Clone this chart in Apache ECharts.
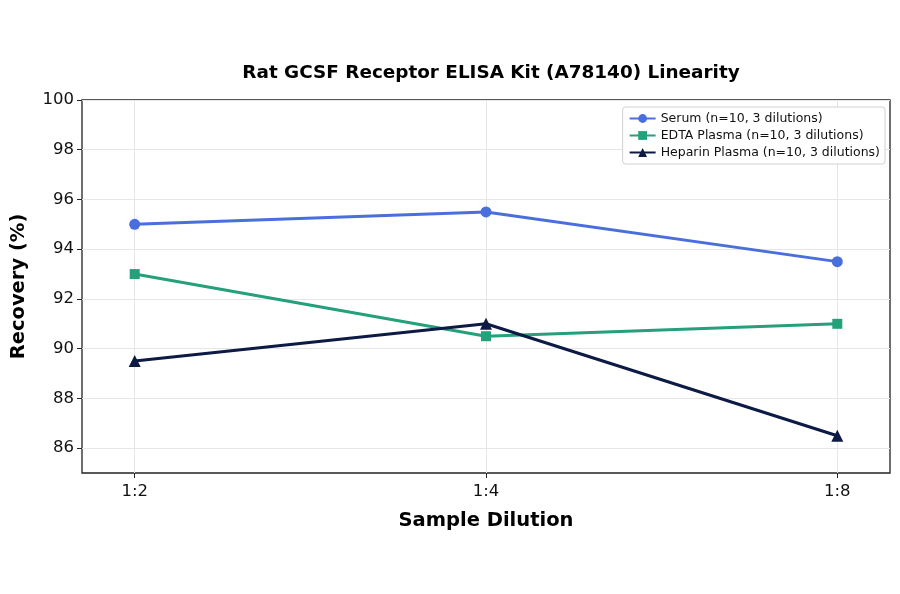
<!DOCTYPE html>
<html>
<head>
<meta charset="utf-8">
<script src="https://cdn.jsdelivr.net/npm/echarts@6/dist/echarts.min.js"></script>
<style>
  html, body { margin: 0; padding: 0; background: #fff; }
  #chart { width: 900px; height: 594px; }
</style>
</head>
<body>
<div id="chart"></div>
<script>
var categories = ['1:2', '1:4', '1:8'];
var serum = [95, 95.5, 93.5];
var edta = [93, 90.5, 91];
var heparin = [89.5, 91, 86.5];
var yTicks = [86, 88, 90, 92, 94, 96, 98, 100];
var seriesNames = ['Serum (n=10, 3 dilutions)', 'EDTA Plasma (n=10, 3 dilutions)', 'Heparin Plasma (n=10, 3 dilutions)'];

(function() {
  var font = 'DejaVu Sans';
  var xIdx = categories.map(function(c, i) { return i; });
  function pts(vals) {
    return vals.map(function(v, i) { return [i, v]; });
  }

  var chart = echarts.init(document.getElementById('chart'), null, { renderer: 'canvas' });
  chart.setOption({
    animation: false,
    textStyle: { fontFamily: font },
    title: {
      text: 'Rat GCSF Receptor ELISA Kit (A78140) Linearity',
      left: 486,
      textAlign: 'center',
      top: 59,
      textStyle: { fontSize: 18.4, fontWeight: 'bold', color: '#000', fontFamily: font }
    },
    grid: {
      left: 82, right: 10, top: 100, bottom: 121,
      outerBoundsMode: 'none',
      show: true, borderColor: '#222', borderWidth: 1.3, backgroundColor: 'transparent'
    },
    legend: {
      data: seriesNames,
      orient: 'vertical',
      right: 15,
      top: 107,
      itemWidth: 26,
      itemHeight: 11,
      itemGap: 4,
      padding: [5, 5, 5, 6],
      backgroundColor: '#fff',
      borderColor: '#d0d0d0',
      borderWidth: 1,
      borderRadius: 3,
      textStyle: { fontSize: 12.5, color: '#111', fontFamily: font }
    },
    xAxis: {
      type: 'value',
      min: -0.15,
      max: 2.15,
      name: 'Sample Dilution',
      nameLocation: 'middle',
      nameGap: 38,
      nameTextStyle: { fontSize: 19.5, fontWeight: 'bold', color: '#000', fontFamily: font },
      axisLine: { show: false, onZero: false },
      axisTick: { show: true, customValues: xIdx, length: 5, lineStyle: { color: '#222' } },
      axisLabel: {
        customValues: xIdx,
        fontSize: 16.5, color: '#111', margin: 10,
        formatter: function(v) { return categories[Math.round(v)]; }
      },
      splitLine: { show: true, customValues: xIdx, lineStyle: { color: '#e6e6e6', width: 1 } }
    },
    yAxis: {
      type: 'value',
      min: 85,
      max: 100,
      name: 'Recovery (%)',
      nameLocation: 'middle',
      nameGap: 53,
      nameTextStyle: { fontSize: 19.5, fontWeight: 'bold', color: '#000', fontFamily: font },
      axisLine: { show: false, onZero: false },
      axisTick: { show: true, customValues: yTicks, length: 5, lineStyle: { color: '#222' } },
      axisLabel: { customValues: yTicks, fontSize: 16.5, color: '#111', margin: 8 },
      splitLine: { show: true, customValues: yTicks, lineStyle: { color: '#e6e6e6', width: 1 } }
    },
    series: [
      {
        name: seriesNames[0], type: 'line', data: pts(serum),
        symbol: 'circle', symbolSize: 11,
        lineStyle: { color: '#4a6fdc', width: 3 },
        itemStyle: { color: '#4a6fdc' }, z: 3
      },
      {
        name: seriesNames[1], type: 'line', data: pts(edta),
        symbol: 'rect', symbolSize: 10,
        lineStyle: { color: '#24a07a', width: 3 },
        itemStyle: { color: '#24a07a' }, z: 3
      },
      {
        name: seriesNames[2], type: 'line', data: pts(heparin),
        symbol: 'triangle', symbolSize: 12,
        lineStyle: { color: '#0c1a44', width: 3 },
        itemStyle: { color: '#0c1a44' }, z: 3
      }
    ]
  });
})();
</script>
</body>
</html>
